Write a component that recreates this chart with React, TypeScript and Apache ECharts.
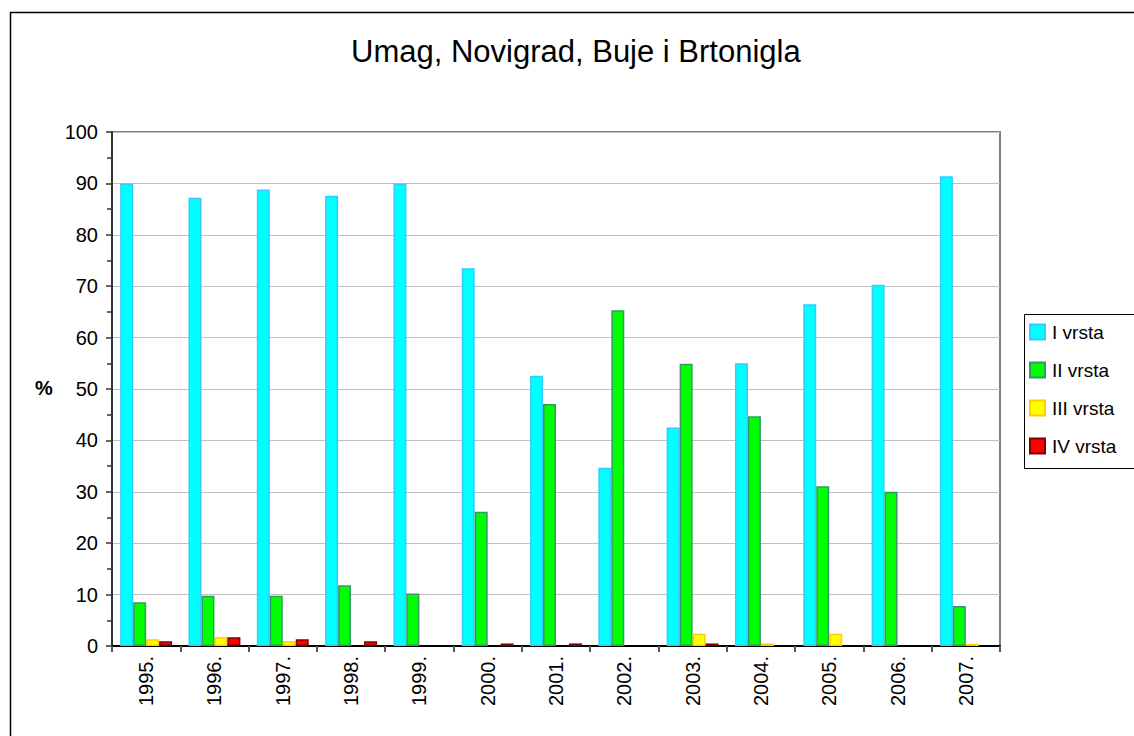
import React, { useEffect, useRef } from "react";
import * as echarts from "echarts";

const categories = ["1995.", "1996.", "1997.", "1998.", "1999.", "2000.", "2001.", "2002.", "2003.", "2004.", "2005.", "2006.", "2007."];
const seriesNames = ["I vrsta", "II vrsta", "III vrsta", "IV vrsta"];
const vrstaI = [90.0, 87.2, 88.8, 87.6, 90.0, 73.5, 52.6, 34.7, 42.5, 55.0, 66.5, 70.3, 91.4];
const vrstaII = [8.5, 9.8, 9.8, 11.8, 10.2, 26.1, 47.1, 65.3, 54.9, 44.7, 31.1, 30.0, 7.8];
const vrstaIII = [1.3, 1.7, 0.9, 0, 0, 0, 0, 0, 2.4, 0.5, 2.4, 0, 0.4];
const vrstaIV = [0.9, 1.7, 1.3, 0.9, 0, 0.5, 0.5, 0, 0.5, 0, 0, 0, 0];
const yTicks = { min: 0, max: 100, interval: 10 };

const fills = ["#00FFFF", "#00FF00", "#FFFF00", "#FF0000"];
const borders = ["#33CCFF", "#339966", "#FFCC00", "#800000"];

export default function App() {
  const ref = useRef<HTMLDivElement>(null);
  useEffect(() => {
    if (!ref.current) return;
    const chart = echarts.init(ref.current, null, { renderer: "svg" });
    const data = [vrstaI, vrstaII, vrstaIII, vrstaIV];
    const font = "'Liberation Sans', Arial, sans-serif";
    chart.setOption({
      animation: false,
      backgroundColor: "#ffffff",
      textStyle: { fontFamily: font },
      title: {
        text: "Umag, Novigrad, Buje i Brtonigla",
        left: 346,
        top: 31,
        textStyle: { fontFamily: font, fontSize: 31, fontWeight: "normal", color: "#000" },
      },
      grid: {
        left: 112,
        right: 134,
        top: 132,
        bottom: 90,
        show: true,
        borderColor: "#808080",
        borderWidth: 2,
        backgroundColor: "transparent",
      },
      legend: {
        orient: "vertical",
        left: 1029,
        top: 322,
        padding: 0,
        itemWidth: 15,
        itemHeight: 15,
        itemGap: 18,
        icon: "rect",
        textStyle: { fontFamily: font, fontSize: 19, lineHeight: 20, color: "#000", padding: [0, 0, 0, 2] },
        data: seriesNames,
      },
      graphic: [
        {
          type: "rect",
          left: 8,
          top: 10,
          shape: { width: 1140, height: 740 },
          style: { fill: "none", stroke: "#000", lineWidth: 1.5 },
          silent: true,
        },
        {
          type: "rect",
          left: 1022,
          top: 312,
          shape: { width: 111, height: 154 },
          style: { fill: "none", stroke: "#000", lineWidth: 1 },
          silent: true,
        },
        {
          type: "text",
          left: 35,
          top: 378,
          style: { text: "%", fontFamily: font, fontSize: 20, fontWeight: "bold", fill: "#000" },
        },
      ],
      xAxis: {
        type: "category",
        data: categories,
        axisLine: { lineStyle: { color: "#000", width: 2 } },
        axisTick: { show: true, alignWithLabel: false, length: 6, lineStyle: { color: "#555", width: 2 } },
        axisLabel: { rotate: 90, fontSize: 20, color: "#000", margin: 10, fontFamily: font },
      },
      yAxis: {
        type: "value",
        min: yTicks.min,
        max: yTicks.max,
        interval: yTicks.interval,
        axisLine: { show: true, lineStyle: { color: "#333", width: 2 } },
        axisTick: { show: true, length: 6, lineStyle: { color: "#333", width: 1.5 } },
        minorTick: { show: true, splitNumber: 2, length: 5, lineStyle: { color: "#333", width: 1.5 } },
        splitLine: { show: true, lineStyle: { color: "#C0C0C0", width: 1 } },
        axisLabel: { fontSize: 20, color: "#000", margin: 14, fontFamily: font },
      },
      series: seriesNames.map((name, i) => ({
        name,
        type: "bar",
        data: data[i].map((v) => (v === 0 ? null : v)),
        barGap: "0%",
        barCategoryGap: "24%",
        itemStyle: { color: fills[i], borderColor: borders[i], borderWidth: 1.5 },
      })),
    });
    return () => chart.dispose();
  }, []);
  return <div ref={ref} style={{ width: 1134, height: 736, position: "absolute", left: 0, top: 0 }} />;
}
